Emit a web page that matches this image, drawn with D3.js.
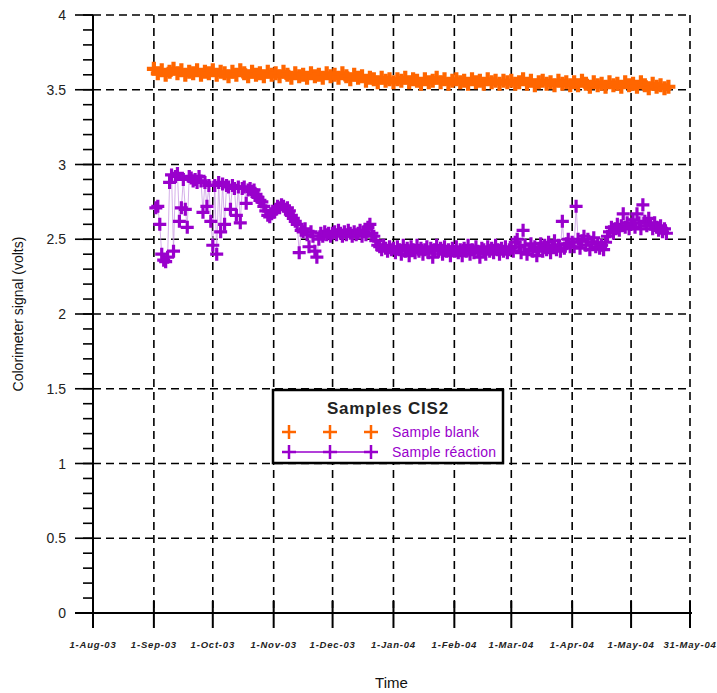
<!DOCTYPE html>
<html>
<head>
<meta charset="utf-8">
<script src="https://cdn.jsdelivr.net/npm/d3@7"></script>
<style>
  body { margin: 0; background: #fff; }
  svg { display: block; font-family: "Liberation Sans", Arial, sans-serif; }
</style>
</head>
<body>
<div id="container"></div>
<script>
/* CONSTANTS AND GLOBALS */
const width = 717,
  height = 693,
  margin = { top: 15, bottom: 80, left: 93, right: 27 };

// x axis ticks (monthly)
const tickDates = ["2003-08-01", "2003-09-01", "2003-10-01", "2003-11-01", "2003-12-01",
  "2004-01-01", "2004-02-01", "2004-03-01", "2004-04-01", "2004-05-01", "2004-05-31"];
const yTicks = [0, 0.5, 1, 1.5, 2, 2.5, 3, 3.5, 4];

// Sample blank : one reading every 2 days from 1 Sep 2003
const blankStart = "2003-09-01", blankStep = 2;
const blankValues = [
  3.64, 3.61, 3.63, 3.60, 3.62, 3.64, 3.61, 3.63, 3.60, 3.62, 3.61, 3.63, 3.60, 3.62, 3.61,
  3.63, 3.60, 3.62, 3.61, 3.59, 3.62, 3.60, 3.63, 3.61, 3.59, 3.62, 3.60, 3.61, 3.59, 3.62, 3.60,
  3.61, 3.59, 3.62, 3.60, 3.58, 3.61, 3.59, 3.60, 3.58, 3.61, 3.59, 3.60, 3.58, 3.61, 3.59,
  3.60, 3.58, 3.61, 3.59, 3.57, 3.60, 3.58, 3.59, 3.56, 3.58, 3.57, 3.55, 3.58, 3.56, 3.57,
  3.55, 3.57, 3.56, 3.58, 3.55, 3.57, 3.56, 3.54, 3.57, 3.55, 3.56, 3.58, 3.55, 3.57, 3.54, 3.56,
  3.57, 3.55, 3.56, 3.54, 3.57, 3.55, 3.56, 3.54, 3.57, 3.55, 3.56, 3.54, 3.56, 3.55,
  3.56, 3.54, 3.55, 3.57, 3.54, 3.56, 3.53, 3.55, 3.56, 3.54, 3.55, 3.53, 3.56, 3.54, 3.55, 3.53,
  3.55, 3.53, 3.56, 3.54, 3.52, 3.55, 3.53, 3.54, 3.52, 3.55, 3.53, 3.54, 3.52, 3.55, 3.53,
  3.54, 3.52, 3.55, 3.53, 3.51, 3.54, 3.52, 3.53, 3.51, 3.52
];

// Sample reaction : one reading per day from 2 Sep 2003
const reactionStart = "2003-09-02", reactionStep = 1;
const reactionValues = [
  // Sep
  2.71, 2.72, 2.60, 2.40, 2.36, 2.35, 2.38, 2.88, 2.93, 2.42, 2.92, 2.94, 2.62, 2.71, 2.90,
  2.70, 2.58, 2.92, 2.91, 2.89, 2.90, 2.88, 2.92, 2.89, 2.68, 2.88, 2.72, 2.86, 2.62,
  // Oct
  2.46, 2.86, 2.40, 2.88, 2.55, 2.87, 2.60, 2.86, 2.85, 2.70, 2.86, 2.84, 2.66, 2.85, 2.61, 2.84,
  2.85, 2.74, 2.83, 2.84, 2.82, 2.83, 2.80, 2.78, 2.76, 2.75, 2.72, 2.69, 2.66, 2.65, 2.67,
  // Nov
  2.68, 2.70, 2.72, 2.71, 2.73, 2.72, 2.70, 2.71, 2.69, 2.66, 2.64, 2.62, 2.60, 2.41, 2.56,
  2.55, 2.57, 2.53, 2.45, 2.55, 2.52, 2.42, 2.38, 2.50, 2.54, 2.52, 2.55, 2.53, 2.54, 2.52,
  // Dec
  2.54, 2.55, 2.53, 2.56, 2.54, 2.52, 2.55, 2.53, 2.56, 2.54, 2.52, 2.55, 2.53, 2.54, 2.56, 2.52,
  2.55, 2.53, 2.58, 2.60, 2.54, 2.52, 2.49, 2.46, 2.45, 2.43, 2.46, 2.44, 2.42, 2.45, 2.43,
  // Jan
  2.44, 2.41, 2.45, 2.43, 2.40, 2.46, 2.42, 2.44, 2.39, 2.45, 2.43, 2.41, 2.46, 2.42, 2.44, 2.40,
  2.43, 2.45, 2.41, 2.44, 2.38, 2.43, 2.46, 2.42, 2.44, 2.40, 2.45, 2.42, 2.43, 2.39, 2.44,
  // Feb
  2.42, 2.45, 2.41, 2.43, 2.39, 2.44, 2.42, 2.46, 2.40, 2.43, 2.41, 2.45, 2.42, 2.38, 2.44,
  2.43, 2.40, 2.45, 2.42, 2.44, 2.41, 2.46, 2.43, 2.40, 2.44, 2.42, 2.45, 2.41, 2.43,
  // Mar
  2.44, 2.42, 2.48, 2.50, 2.45, 2.41, 2.56, 2.46, 2.40, 2.43, 2.47, 2.42, 2.45, 2.39, 2.44, 2.47,
  2.42, 2.46, 2.43, 2.48, 2.41, 2.45, 2.49, 2.43, 2.46, 2.42, 2.62, 2.44, 2.47, 2.50, 2.45,
  // Apr
  2.48, 2.45, 2.72, 2.50, 2.44, 2.49, 2.52, 2.46, 2.50, 2.43, 2.48, 2.51, 2.45, 2.47, 2.44,
  2.46, 2.43, 2.48, 2.52, 2.55, 2.58, 2.54, 2.57, 2.60, 2.56, 2.59, 2.67, 2.58, 2.61, 2.57,
  // May
  2.60, 2.63, 2.58, 2.67, 2.61, 2.57, 2.73, 2.62, 2.59, 2.64, 2.60, 2.57, 2.61, 2.58, 2.56,
  2.59, 2.55, 2.57, 2.54
];

const legendTitle = "Samples CIS2";
const seriesNames = ["Sample blank", "Sample réaction"];
const seriesColors = ["#ff6600", "#9900cc"];

/* BUILD DATA */
const parseDate = d3.timeParse("%Y-%m-%d");
const toSeries = (start, step, values) =>
  values.map((v, i) => ({ date: d3.timeDay.offset(parseDate(start), i * step), value: v }));
const blank = toSeries(blankStart, blankStep, blankValues);
const reaction = toSeries(reactionStart, reactionStep, reactionValues);

const svg = d3.select("#container")
  .append("svg")
  .attr("width", width)
  .attr("height", height);

// SCALES
const xScale = d3.scaleTime()
  .domain([parseDate(tickDates[0]), parseDate(tickDates[tickDates.length - 1])])
  .range([margin.left, width - margin.right]);

const yScale = d3.scaleLinear()
  .domain([0, 4])
  .range([height - margin.bottom, margin.top]);

const x0 = margin.left, x1 = width - margin.right;
const y0 = height - margin.bottom, y1 = margin.top;

// GRID (dashed)
const grid = svg.append("g")
  .attr("stroke", "#000")
  .attr("stroke-width", 1.6)
  .attr("stroke-dasharray", "8,5");

grid.selectAll("line.hgrid")
  .data(yTicks.filter(d => d > 0))
  .join("line")
  .attr("class", "hgrid")
  .attr("x1", x0).attr("x2", x1)
  .attr("y1", d => yScale(d)).attr("y2", d => yScale(d));

grid.selectAll("line.vgrid")
  .data(tickDates.slice(1))
  .join("line")
  .attr("class", "vgrid")
  .attr("x1", d => xScale(parseDate(d))).attr("x2", d => xScale(parseDate(d)))
  .attr("y1", y1).attr("y2", y0);

// MARKER
const plus = s => `M${-s},0H${s}M0,${-s}V${s}`;

// SAMPLE BLANK
svg.append("g")
  .selectAll("path.blank")
  .data(blank)
  .join("path")
  .attr("class", "blank")
  .attr("d", plus(7))
  .attr("stroke", seriesColors[0])
  .attr("stroke-width", 4.2)
  .attr("transform", d => `translate(${xScale(d.date)},${yScale(d.value)})`);

// SAMPLE REACTION
const lineGen = d3.line()
  .x(d => xScale(d.date))
  .y(d => yScale(d.value));

svg.append("path")
  .datum(reaction)
  .attr("d", lineGen)
  .attr("fill", "none")
  .attr("stroke", "#c99ae3")
  .attr("stroke-width", 0.8);

svg.append("g")
  .selectAll("path.reaction")
  .data(reaction)
  .join("path")
  .attr("class", "reaction")
  .attr("d", plus(6.5))
  .attr("stroke", seriesColors[1])
  .attr("stroke-width", 3.2)
  .attr("transform", d => `translate(${xScale(d.date)},${yScale(d.value)})`);

// Y AXIS
const yAxisG = svg.append("g").attr("stroke", "#000");
yAxisG.append("line")
  .attr("x1", x0).attr("x2", x0)
  .attr("y1", y1).attr("y2", y0 + 15)
  .attr("stroke-width", 2);

yAxisG.selectAll("line.minor")
  .data(d3.range(0, 41).map(i => i / 10))
  .join("line")
  .attr("class", "minor")
  .attr("x1", x0 - 10).attr("x2", x0)
  .attr("y1", d => yScale(d)).attr("y2", d => yScale(d))
  .attr("stroke-width", 1.6);

yAxisG.selectAll("line.major")
  .data(yTicks)
  .join("line")
  .attr("class", "major")
  .attr("x1", x0 - 18).attr("x2", x0)
  .attr("y1", d => yScale(d)).attr("y2", d => yScale(d))
  .attr("stroke-width", 1.6);

svg.append("g")
  .selectAll("text")
  .data(yTicks)
  .join("text")
  .attr("x", x0 - 27)
  .attr("y", d => yScale(d))
  .attr("dy", "0.36em")
  .attr("text-anchor", "end")
  .attr("font-size", 14)
  .attr("fill", "#222")
  .text(d => d);

// X AXIS
const xAxisG = svg.append("g").attr("stroke", "#000");
xAxisG.append("line")
  .attr("x1", x0 - 18).attr("x2", x1 + 2)
  .attr("y1", y0).attr("y2", y0)
  .attr("stroke-width", 2);

xAxisG.selectAll("line.xtick")
  .data(tickDates)
  .join("line")
  .attr("class", "xtick")
  .attr("x1", d => xScale(parseDate(d))).attr("x2", d => xScale(parseDate(d)))
  .attr("y1", y0 - 12).attr("y2", y0 + 15)
  .attr("stroke-width", 2);

const fmt = d3.timeFormat("%-d-%b-%y");
svg.append("g")
  .selectAll("text")
  .data(tickDates)
  .join("text")
  .attr("x", d => xScale(parseDate(d)))
  .attr("y", y0 + 35)
  .attr("text-anchor", "middle")
  .attr("font-size", 9.5)
  .attr("font-style", "italic")
  .attr("font-weight", "bold")
  .attr("letter-spacing", 0.8)
  .attr("fill", "#222")
  .text(d => fmt(parseDate(d)));

// AXIS TITLES
svg.append("text")
  .attr("x", (x0 + x1) / 2)
  .attr("y", 688)
  .attr("text-anchor", "middle")
  .attr("font-size", 15)
  .attr("fill", "#111")
  .text("Time");

svg.append("text")
  .attr("transform", `translate(23,${(y0 + y1) / 2}) rotate(-90)`)
  .attr("text-anchor", "middle")
  .attr("font-size", 14)
  .attr("fill", "#111")
  .text("Colorimeter signal (volts)");

// LEGEND
const legend = svg.append("g").attr("transform", "translate(273,390)");
legend.append("rect")
  .attr("width", 230).attr("height", 73)
  .attr("fill", "#fff")
  .attr("stroke", "#000")
  .attr("stroke-width", 2.5);

legend.append("text")
  .attr("x", 115).attr("y", 24)
  .attr("text-anchor", "middle")
  .attr("font-size", 17)
  .attr("font-weight", "bold")
  .attr("letter-spacing", 0.8)
  .attr("fill", "#222")
  .text(legendTitle);

const markerX = [16, 57, 98];
seriesNames.forEach((name, i) => {
  const row = legend.append("g").attr("transform", `translate(0,${42 + i * 20})`);
  if (i === 1) {
    row.append("line")
      .attr("x1", markerX[0]).attr("x2", markerX[2])
      .attr("stroke", seriesColors[i])
      .attr("stroke-width", 1.5);
  }
  row.selectAll("path")
    .data(markerX)
    .join("path")
    .attr("d", plus(7))
    .attr("transform", d => `translate(${d},0)`)
    .attr("stroke", seriesColors[i])
    .attr("stroke-width", 2.5);
  row.append("text")
    .attr("x", 119).attr("y", 0)
    .attr("dy", "0.35em")
    .attr("font-size", 14)
    .attr("font-family", "'Liberation Sans Narrow', 'Liberation Sans', sans-serif")
    .attr("letter-spacing", 0.2)
    .attr("fill", seriesColors[1])
    .text(name);
});
</script>
</body>
</html>
